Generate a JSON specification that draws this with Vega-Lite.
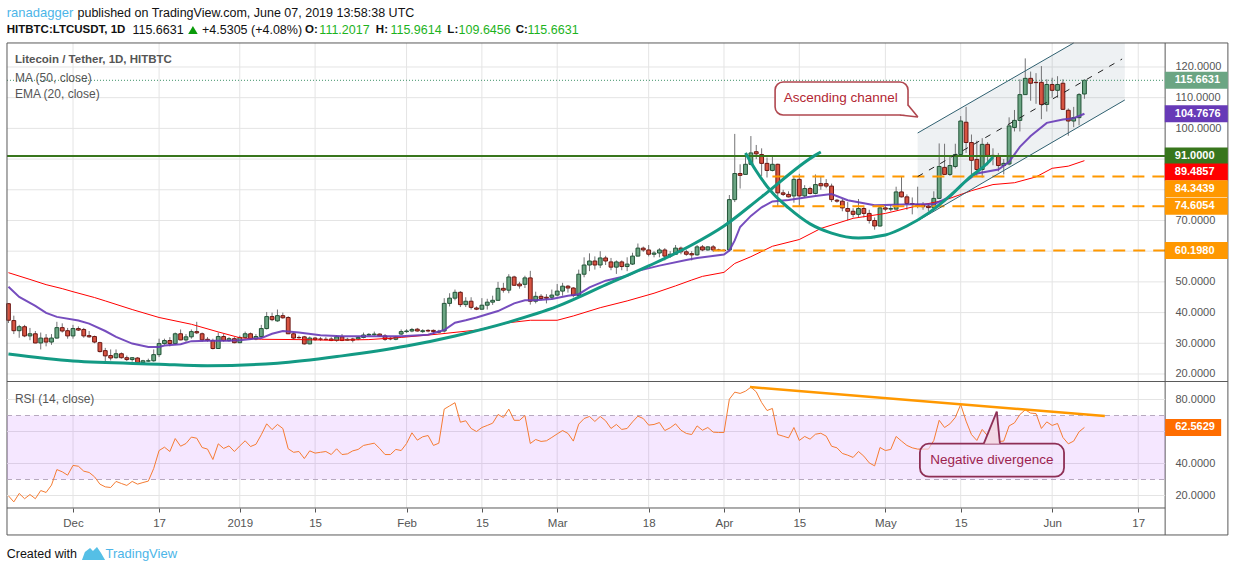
{
  "$schema": "https://vega.github.io/schema/vega-lite/v6.json",
  "description": "Litecoin / Tether daily candles with MA, EMA, channel and RSI",
  "width": 1234,
  "height": 572,
  "padding": 0,
  "autosize": "none",
  "background": "#ffffff",
  "config": {"view": {"stroke": null}, "font": "Liberation Sans"},
  "datasets": {
    "candles": [
      {"date":"2018-11-19","o":42.9,"h":43,"l":36.6,"c":37.5,"rsi":19.8},
      {"date":"2018-11-20","o":37.4,"h":39,"l":33,"c":34.1,"rsi":16},
      {"date":"2018-11-21","o":34.1,"h":36,"l":31.8,"c":35.4,"rsi":21.3},
      {"date":"2018-11-22","o":35.4,"h":36,"l":32,"c":32.4,"rsi":18},
      {"date":"2018-11-23","o":32.4,"h":35,"l":31,"c":33.1,"rsi":20.6},
      {"date":"2018-11-24","o":33.1,"h":34,"l":30,"c":30.1,"rsi":18},
      {"date":"2018-11-25","o":30.1,"h":33.5,"l":28,"c":31.7,"rsi":23.1},
      {"date":"2018-11-26","o":31.7,"h":33,"l":29,"c":30.4,"rsi":21.9},
      {"date":"2018-11-27","o":30.4,"h":33,"l":29.5,"c":31.7,"rsi":26.5},
      {"date":"2018-11-28","o":31.7,"h":37,"l":31.5,"c":35.1,"rsi":36.2},
      {"date":"2018-11-29","o":35.1,"h":36.5,"l":33.5,"c":34,"rsi":34.8},
      {"date":"2018-11-30","o":34.1,"h":35,"l":31.5,"c":32.4,"rsi":32.7},
      {"date":"2018-12-01","o":32.4,"h":36,"l":31.5,"c":34.8,"rsi":38.8},
      {"date":"2018-12-02","o":34.8,"h":35.5,"l":34,"c":34.3,"rsi":38.3},
      {"date":"2018-12-03","o":34.5,"h":35,"l":31.8,"c":32.4,"rsi":35.2},
      {"date":"2018-12-04","o":32.5,"h":34,"l":31.8,"c":32.1,"rsi":34.4},
      {"date":"2018-12-05","o":32.2,"h":32.5,"l":30,"c":30.4,"rsi":31.7},
      {"date":"2018-12-06","o":30.2,"h":30.5,"l":27,"c":27.3,"rsi":27.1},
      {"date":"2018-12-07","o":27.6,"h":28.5,"l":24,"c":25.9,"rsi":25.4},
      {"date":"2018-12-08","o":26,"h":28,"l":24.4,"c":25.2,"rsi":25},
      {"date":"2018-12-09","o":25.3,"h":28,"l":25,"c":26.6,"rsi":28.8},
      {"date":"2018-12-10","o":26.6,"h":27,"l":25,"c":25.3,"rsi":27.5},
      {"date":"2018-12-11","o":25.3,"h":26,"l":24.2,"c":24.7,"rsi":26.3},
      {"date":"2018-12-12","o":24.7,"h":25.5,"l":24,"c":25.3,"rsi":28.8},
      {"date":"2018-12-13","o":25.2,"h":25.5,"l":23.5,"c":23.7,"rsi":27.1},
      {"date":"2018-12-14","o":23.7,"h":24.6,"l":23.5,"c":24.3,"rsi":28.1},
      {"date":"2018-12-15","o":24.2,"h":25,"l":24,"c":24.3,"rsi":29},
      {"date":"2018-12-16","o":24.3,"h":28,"l":24,"c":26.3,"rsi":36.9},
      {"date":"2018-12-17","o":26.3,"h":31.5,"l":25.5,"c":29.9,"rsi":48.1},
      {"date":"2018-12-18","o":29.9,"h":31.5,"l":29.5,"c":30.9,"rsi":50.2},
      {"date":"2018-12-19","o":30.9,"h":32,"l":29,"c":29.9,"rsi":47.5},
      {"date":"2018-12-20","o":29.9,"h":33.5,"l":29.5,"c":33.1,"rsi":55.6},
      {"date":"2018-12-21","o":33.1,"h":34.5,"l":31,"c":31.1,"rsi":50.8},
      {"date":"2018-12-22","o":31.1,"h":33,"l":30.5,"c":32.1,"rsi":52.5},
      {"date":"2018-12-23","o":32.1,"h":34.5,"l":31.5,"c":33.8,"rsi":56.5},
      {"date":"2018-12-24","o":33.8,"h":37,"l":33,"c":33.4,"rsi":55.8},
      {"date":"2018-12-25","o":33.1,"h":33.5,"l":30.5,"c":31.1,"rsi":50},
      {"date":"2018-12-26","o":31.3,"h":32,"l":30.5,"c":30.9,"rsi":49},
      {"date":"2018-12-27","o":30.9,"h":31.5,"l":28,"c":28.3,"rsi":42.5},
      {"date":"2018-12-28","o":28.3,"h":33.5,"l":28.3,"c":32.2,"rsi":52.3},
      {"date":"2018-12-29","o":32.2,"h":33,"l":30.5,"c":30.9,"rsi":49.4},
      {"date":"2018-12-30","o":30.9,"h":32,"l":30.5,"c":31.5,"rsi":51},
      {"date":"2018-12-31","o":31.5,"h":32,"l":30,"c":30.2,"rsi":47.5},
      {"date":"2019-01-01","o":30.2,"h":32.5,"l":30,"c":31.9,"rsi":51},
      {"date":"2019-01-02","o":31.9,"h":33.8,"l":31.5,"c":33.1,"rsi":54.2},
      {"date":"2019-01-03","o":33.1,"h":33.5,"l":31.2,"c":31.4,"rsi":50.6},
      {"date":"2019-01-04","o":31.4,"h":33,"l":31,"c":32.2,"rsi":52},
      {"date":"2019-01-05","o":32.2,"h":36,"l":32,"c":34.8,"rsi":58},
      {"date":"2019-01-06","o":34.8,"h":40.2,"l":34.5,"c":38.7,"rsi":64.8},
      {"date":"2019-01-07","o":38.7,"h":40,"l":37.2,"c":37.7,"rsi":61.2},
      {"date":"2019-01-08","o":37.3,"h":41,"l":37,"c":39,"rsi":64.4},
      {"date":"2019-01-09","o":39,"h":40,"l":38,"c":38.3,"rsi":61.9},
      {"date":"2019-01-10","o":38.4,"h":38.8,"l":33,"c":33.1,"rsi":49.2},
      {"date":"2019-01-11","o":33.1,"h":33.5,"l":31.2,"c":31.7,"rsi":47},
      {"date":"2019-01-12","o":31.9,"h":32.5,"l":31.5,"c":31.8,"rsi":47.5},
      {"date":"2019-01-13","o":32.1,"h":32.4,"l":29.6,"c":29.8,"rsi":43.1},
      {"date":"2019-01-14","o":29.8,"h":32.2,"l":29.7,"c":31.7,"rsi":47.9},
      {"date":"2019-01-15","o":31.7,"h":32,"l":30.8,"c":31.2,"rsi":46.5},
      {"date":"2019-01-16","o":31.4,"h":32,"l":30.8,"c":31.3,"rsi":47},
      {"date":"2019-01-17","o":31.3,"h":32,"l":31,"c":31.2,"rsi":47.5},
      {"date":"2019-01-18","o":31.4,"h":32,"l":30.7,"c":30.9,"rsi":45.6},
      {"date":"2019-01-19","o":30.9,"h":32.6,"l":30.5,"c":32.1,"rsi":49.2},
      {"date":"2019-01-20","o":32.1,"h":33,"l":30.7,"c":30.9,"rsi":45.6},
      {"date":"2019-01-21","o":31,"h":31.8,"l":30.8,"c":31.3,"rsi":46},
      {"date":"2019-01-22","o":31.4,"h":31.8,"l":30.3,"c":31,"rsi":47.9},
      {"date":"2019-01-23","o":31.4,"h":32.3,"l":31,"c":31.9,"rsi":48.8},
      {"date":"2019-01-24","o":31.9,"h":33.5,"l":31.6,"c":32.7,"rsi":51.3},
      {"date":"2019-01-25","o":32.7,"h":33.3,"l":32.5,"c":32.9,"rsi":52},
      {"date":"2019-01-26","o":32.8,"h":33.8,"l":32.5,"c":33,"rsi":52.7},
      {"date":"2019-01-27","o":33,"h":33.2,"l":32.1,"c":32.4,"rsi":49.4},
      {"date":"2019-01-28","o":32.4,"h":33,"l":30.8,"c":31.3,"rsi":45.6},
      {"date":"2019-01-29","o":31.6,"h":32,"l":31,"c":31.4,"rsi":45.6},
      {"date":"2019-01-30","o":31.3,"h":32.4,"l":31,"c":32,"rsi":48.8},
      {"date":"2019-01-31","o":33,"h":34.5,"l":32.7,"c":33.8,"rsi":48.1},
      {"date":"2019-02-01","o":33.8,"h":34.6,"l":33.4,"c":34,"rsi":52.5},
      {"date":"2019-02-02","o":34,"h":35,"l":33.6,"c":34.5,"rsi":59.2},
      {"date":"2019-02-03","o":34.6,"h":35,"l":33.8,"c":34,"rsi":54.6},
      {"date":"2019-02-04","o":33.8,"h":34.6,"l":33.4,"c":34.1,"rsi":56.7},
      {"date":"2019-02-05","o":34.2,"h":34.6,"l":33.6,"c":34,"rsi":57.5},
      {"date":"2019-02-06","o":34.2,"h":34.5,"l":33,"c":33.8,"rsi":51.3},
      {"date":"2019-02-07","o":33.6,"h":34.4,"l":33.2,"c":33.9,"rsi":52.7},
      {"date":"2019-02-08","o":34,"h":44.7,"l":33.5,"c":43,"rsi":74},
      {"date":"2019-02-09","o":43,"h":46.3,"l":42,"c":44.7,"rsi":76},
      {"date":"2019-02-10","o":44.7,"h":47.5,"l":44,"c":46.6,"rsi":78},
      {"date":"2019-02-11","o":46.6,"h":47,"l":41.8,"c":42.6,"rsi":65.8},
      {"date":"2019-02-12","o":42.6,"h":45,"l":41.8,"c":43.7,"rsi":66.7},
      {"date":"2019-02-13","o":43.7,"h":45,"l":41,"c":41.7,"rsi":61.9},
      {"date":"2019-02-14","o":41.5,"h":42,"l":40.8,"c":41.1,"rsi":60},
      {"date":"2019-02-15","o":41.1,"h":44.7,"l":41,"c":42.4,"rsi":62.5},
      {"date":"2019-02-16","o":42.4,"h":44.5,"l":41,"c":43.4,"rsi":63.8},
      {"date":"2019-02-17","o":43.4,"h":45.5,"l":42.5,"c":44,"rsi":65.2},
      {"date":"2019-02-18","o":44,"h":50,"l":43.8,"c":47.9,"rsi":70.6},
      {"date":"2019-02-19","o":47.9,"h":49.7,"l":46.5,"c":47.3,"rsi":68.8},
      {"date":"2019-02-20","o":47.3,"h":52.5,"l":46.3,"c":51.6,"rsi":74},
      {"date":"2019-02-21","o":51.6,"h":52,"l":48.7,"c":48.9,"rsi":67},
      {"date":"2019-02-22","o":49.3,"h":50,"l":47.8,"c":48.7,"rsi":67},
      {"date":"2019-02-23","o":49.2,"h":52,"l":48,"c":51.3,"rsi":70},
      {"date":"2019-02-24","o":51.3,"h":53.6,"l":42.6,"c":43.7,"rsi":52.5},
      {"date":"2019-02-25","o":43.7,"h":46.8,"l":43,"c":45.3,"rsi":55},
      {"date":"2019-02-26","o":45.3,"h":46,"l":44,"c":44.6,"rsi":53.8},
      {"date":"2019-02-27","o":45,"h":46,"l":43,"c":44.7,"rsi":54.2},
      {"date":"2019-02-28","o":45,"h":47.5,"l":44.2,"c":45.7,"rsi":56.3},
      {"date":"2019-03-01","o":45.7,"h":49.3,"l":45.3,"c":47,"rsi":58.5},
      {"date":"2019-03-02","o":47,"h":49.7,"l":45.5,"c":48.6,"rsi":60.6},
      {"date":"2019-03-03","o":48.6,"h":49,"l":46.5,"c":48,"rsi":58.8},
      {"date":"2019-03-04","o":48,"h":48.3,"l":45,"c":45.6,"rsi":54},
      {"date":"2019-03-05","o":45.6,"h":54,"l":45.4,"c":52.5,"rsi":64.6},
      {"date":"2019-03-06","o":52.5,"h":58,"l":51.5,"c":55.5,"rsi":68.1},
      {"date":"2019-03-07","o":55.5,"h":59.3,"l":53.5,"c":56.8,"rsi":69.4},
      {"date":"2019-03-08","o":56.8,"h":58.3,"l":54,"c":55.5,"rsi":66.3},
      {"date":"2019-03-09","o":55.5,"h":60,"l":54.5,"c":57.8,"rsi":69.4},
      {"date":"2019-03-10","o":57.8,"h":58.5,"l":55.5,"c":56.8,"rsi":66.7},
      {"date":"2019-03-11","o":56.5,"h":57.8,"l":53.8,"c":54.8,"rsi":61.9},
      {"date":"2019-03-12","o":54.8,"h":57,"l":52.6,"c":56.5,"rsi":64.4},
      {"date":"2019-03-13","o":56.5,"h":57,"l":53.8,"c":55,"rsi":61.3},
      {"date":"2019-03-14","o":55,"h":58,"l":53.5,"c":55.8,"rsi":61.9},
      {"date":"2019-03-15","o":55.8,"h":59.5,"l":55.5,"c":58.4,"rsi":66},
      {"date":"2019-03-16","o":58.4,"h":62.5,"l":58.3,"c":61,"rsi":69.6},
      {"date":"2019-03-17","o":61,"h":61.5,"l":59.8,"c":60.4,"rsi":68.1},
      {"date":"2019-03-18","o":60.4,"h":62,"l":58.3,"c":59,"rsi":64},
      {"date":"2019-03-19","o":59,"h":60,"l":58,"c":59.4,"rsi":64.4},
      {"date":"2019-03-20","o":59.4,"h":61,"l":58,"c":60.4,"rsi":65.6},
      {"date":"2019-03-21","o":60.4,"h":61,"l":57,"c":58.4,"rsi":60.6},
      {"date":"2019-03-22","o":58.4,"h":60,"l":57.8,"c":59,"rsi":62.3},
      {"date":"2019-03-23","o":59,"h":62,"l":58.8,"c":61,"rsi":64.8},
      {"date":"2019-03-24","o":61,"h":61.5,"l":59,"c":59.8,"rsi":60.8},
      {"date":"2019-03-25","o":59.8,"h":60.5,"l":58.5,"c":59,"rsi":58.8},
      {"date":"2019-03-26","o":59.2,"h":60,"l":57,"c":58.8,"rsi":58.1},
      {"date":"2019-03-27","o":58.8,"h":62,"l":58.5,"c":61.4,"rsi":63.5},
      {"date":"2019-03-28","o":61.4,"h":62,"l":60,"c":60.4,"rsi":60.8},
      {"date":"2019-03-29","o":60.4,"h":61.6,"l":60.2,"c":61.4,"rsi":62.5},
      {"date":"2019-03-30","o":61.4,"h":62,"l":59.8,"c":60.4,"rsi":59.6},
      {"date":"2019-03-31","o":60.4,"h":60.8,"l":60,"c":60.3,"rsi":59.4},
      {"date":"2019-04-01","o":60.3,"h":60.6,"l":60,"c":60.2,"rsi":59.4},
      {"date":"2019-04-02","o":60.4,"h":78.3,"l":60,"c":76.8,"rsi":80.2},
      {"date":"2019-04-03","o":76.8,"h":98.2,"l":76,"c":85.3,"rsi":84.6},
      {"date":"2019-04-04","o":85.3,"h":88.3,"l":80.4,"c":84.7,"rsi":83.8},
      {"date":"2019-04-05","o":85,"h":92,"l":85,"c":88.3,"rsi":85.2},
      {"date":"2019-04-06","o":88.3,"h":97.5,"l":88,"c":92,"rsi":87.7},
      {"date":"2019-04-07","o":92.4,"h":94.6,"l":90,"c":91.7,"rsi":84.8},
      {"date":"2019-04-08","o":91.5,"h":93.5,"l":84.5,"c":88.6,"rsi":78.1},
      {"date":"2019-04-09","o":88.6,"h":90.5,"l":84,"c":86.3,"rsi":73.1},
      {"date":"2019-04-10","o":86.3,"h":90.8,"l":86,"c":88.3,"rsi":74.4},
      {"date":"2019-04-11","o":88.3,"h":88.5,"l":74.7,"c":79,"rsi":58.1},
      {"date":"2019-04-12","o":79,"h":80,"l":78,"c":78.5,"rsi":57.1},
      {"date":"2019-04-13","o":78.5,"h":79.5,"l":77.5,"c":77.7,"rsi":56},
      {"date":"2019-04-14","o":78,"h":84.5,"l":75.8,"c":83.4,"rsi":62.5},
      {"date":"2019-04-15","o":83.4,"h":85.2,"l":74.6,"c":78,"rsi":54.4},
      {"date":"2019-04-16","o":78,"h":81.5,"l":77.5,"c":80.4,"rsi":56.9},
      {"date":"2019-04-17","o":80.4,"h":81,"l":78.5,"c":78.8,"rsi":55.2},
      {"date":"2019-04-18","o":78.8,"h":85,"l":78.5,"c":81.7,"rsi":58.3},
      {"date":"2019-04-19","o":82,"h":84.5,"l":80,"c":81.3,"rsi":58.9},
      {"date":"2019-04-20","o":82,"h":83.5,"l":80.5,"c":81.2,"rsi":57.1},
      {"date":"2019-04-21","o":81.2,"h":82,"l":76,"c":76.8,"rsi":50.8},
      {"date":"2019-04-22","o":76.6,"h":77,"l":75.8,"c":76.3,"rsi":49.8},
      {"date":"2019-04-23","o":76.3,"h":77,"l":73,"c":74.1,"rsi":46.3},
      {"date":"2019-04-24","o":73.9,"h":76,"l":70,"c":73,"rsi":45.2},
      {"date":"2019-04-25","o":73,"h":74,"l":71,"c":72,"rsi":43.8},
      {"date":"2019-04-26","o":72,"h":77,"l":71,"c":73.9,"rsi":47.5},
      {"date":"2019-04-27","o":73.9,"h":74.5,"l":71,"c":72.3,"rsi":44.6},
      {"date":"2019-04-28","o":72.3,"h":73.5,"l":69,"c":70,"rsi":40.4},
      {"date":"2019-04-29","o":70,"h":71,"l":67,"c":68.2,"rsi":38.5},
      {"date":"2019-04-30","o":68.2,"h":75,"l":68,"c":74.1,"rsi":50},
      {"date":"2019-05-01","o":74.1,"h":74.8,"l":73,"c":73.7,"rsi":48.1},
      {"date":"2019-05-02","o":73.7,"h":75,"l":73,"c":73.9,"rsi":48.8},
      {"date":"2019-05-03","o":73.7,"h":81,"l":73.6,"c":79.3,"rsi":56.9},
      {"date":"2019-05-04","o":79.3,"h":84.5,"l":77.5,"c":77.7,"rsi":54},
      {"date":"2019-05-05","o":77.7,"h":78.5,"l":73.5,"c":75.5,"rsi":51.3},
      {"date":"2019-05-06","o":75.5,"h":77.5,"l":72,"c":75.2,"rsi":49.8},
      {"date":"2019-05-07","o":75.2,"h":81,"l":74,"c":74.6,"rsi":49},
      {"date":"2019-05-08","o":75,"h":76,"l":73.5,"c":74.5,"rsi":49},
      {"date":"2019-05-09","o":74.7,"h":75.5,"l":73,"c":74.2,"rsi":49},
      {"date":"2019-05-10","o":74.2,"h":79.5,"l":73.5,"c":77.2,"rsi":54.4},
      {"date":"2019-05-11","o":77.2,"h":95.1,"l":77,"c":87.6,"rsi":67},
      {"date":"2019-05-12","o":87.3,"h":95,"l":85,"c":85,"rsi":62.5},
      {"date":"2019-05-13","o":85,"h":91,"l":84.5,"c":87.9,"rsi":64.8},
      {"date":"2019-05-14","o":87.6,"h":95,"l":87,"c":91.5,"rsi":68.8},
      {"date":"2019-05-15","o":91.5,"h":104,"l":91,"c":102.4,"rsi":76.9},
      {"date":"2019-05-16","o":102,"h":107,"l":92,"c":95.4,"rsi":66.5},
      {"date":"2019-05-17","o":95.4,"h":98,"l":85,"c":89.6,"rsi":58.1},
      {"date":"2019-05-18","o":89.9,"h":96,"l":84.5,"c":86.6,"rsi":54.4},
      {"date":"2019-05-19","o":86.6,"h":96.8,"l":84,"c":94.8,"rsi":61.3},
      {"date":"2019-05-20","o":94.8,"h":95.5,"l":88,"c":91.2,"rsi":57.3},
      {"date":"2019-05-21","o":91.2,"h":93.5,"l":88,"c":90.8,"rsi":57.1},
      {"date":"2019-05-22","o":90.9,"h":92,"l":86,"c":87.9,"rsi":53.8},
      {"date":"2019-05-23","o":87.9,"h":90,"l":85,"c":88.6,"rsi":54},
      {"date":"2019-05-24","o":88.4,"h":103.6,"l":88,"c":100.8,"rsi":63.5},
      {"date":"2019-05-25","o":100.3,"h":106,"l":99,"c":102.6,"rsi":65.4},
      {"date":"2019-05-26","o":102.6,"h":116,"l":99,"c":111,"rsi":70.6},
      {"date":"2019-05-27","o":111,"h":122.8,"l":111,"c":116.3,"rsi":73.5},
      {"date":"2019-05-28","o":116.3,"h":118.5,"l":109,"c":114.7,"rsi":71.5},
      {"date":"2019-05-29","o":115,"h":118,"l":108,"c":114.9,"rsi":71.2},
      {"date":"2019-05-30","o":115,"h":120.3,"l":103,"c":107.8,"rsi":61.9},
      {"date":"2019-05-31","o":107.8,"h":116,"l":105.5,"c":114.3,"rsi":66},
      {"date":"2019-06-01","o":114.3,"h":116.5,"l":110,"c":112.4,"rsi":63.8},
      {"date":"2019-06-02","o":112.4,"h":117,"l":110,"c":114.3,"rsi":65},
      {"date":"2019-06-03","o":114.7,"h":116,"l":106,"c":106.2,"rsi":56.3},
      {"date":"2019-06-04","o":105.9,"h":106.5,"l":97.6,"c":102.4,"rsi":52.3},
      {"date":"2019-06-05","o":102.4,"h":107,"l":100.4,"c":103.5,"rsi":54},
      {"date":"2019-06-06","o":103.5,"h":111.5,"l":101,"c":111,"rsi":59.8},
      {"date":"2019-06-07","o":111.2017,"h":115.9614,"l":109.6456,"c":115.6631,"rsi":62.5629}
    ],
    "ema": [
      {"date":"2018-11-19","price":48.4},{"date":"2018-11-21","price":45.1},{"date":"2018-11-24","price":42.2},
      {"date":"2018-11-26","price":39.9},{"date":"2018-11-28","price":38.6},{"date":"2018-12-02","price":37.4},
      {"date":"2018-12-04","price":36.4},{"date":"2018-12-07","price":34},{"date":"2018-12-09","price":32.1},
      {"date":"2018-12-12","price":29.9},{"date":"2018-12-15","price":28.8},{"date":"2018-12-17","price":28.8},
      {"date":"2018-12-18","price":29.3},{"date":"2018-12-21","price":29.7},{"date":"2018-12-23","price":30.7},
      {"date":"2018-12-26","price":30.8},{"date":"2018-12-30","price":30.8},{"date":"2019-01-01","price":31},
      {"date":"2019-01-05","price":31.7},{"date":"2019-01-07","price":33.1},{"date":"2019-01-09","price":34},
      {"date":"2019-01-12","price":33.5},{"date":"2019-01-16","price":32.6},{"date":"2019-01-20","price":32.3},
      {"date":"2019-01-25","price":32.3},{"date":"2019-01-31","price":32.3},{"date":"2019-02-05","price":32.8},
      {"date":"2019-02-08","price":34.3},{"date":"2019-02-10","price":36.7},{"date":"2019-02-12","price":37.5},
      {"date":"2019-02-14","price":38.4},{"date":"2019-02-18","price":40.5},{"date":"2019-02-21","price":43},
      {"date":"2019-02-23","price":44},{"date":"2019-02-25","price":44},{"date":"2019-02-28","price":44.4},
      {"date":"2019-03-03","price":45.5},{"date":"2019-03-05","price":46},{"date":"2019-03-07","price":48.2},
      {"date":"2019-03-10","price":50.4},{"date":"2019-03-14","price":52},{"date":"2019-03-16","price":53.6},
      {"date":"2019-03-20","price":55.3},{"date":"2019-03-25","price":57.1},{"date":"2019-03-27","price":57.8},
      {"date":"2019-04-01","price":58.9},{"date":"2019-04-02","price":60.2},{"date":"2019-04-03","price":63.5},
      {"date":"2019-04-04","price":67.9},{"date":"2019-04-06","price":71.5},{"date":"2019-04-08","price":74.3},
      {"date":"2019-04-10","price":76.2},{"date":"2019-04-13","price":76.7},{"date":"2019-04-18","price":78},
      {"date":"2019-04-21","price":78.6},{"date":"2019-04-24","price":76.6},{"date":"2019-04-29","price":75},
      {"date":"2019-05-06","price":75.3},{"date":"2019-05-10","price":75.3},{"date":"2019-05-13","price":77.7},
      {"date":"2019-05-15","price":81.5},{"date":"2019-05-18","price":85.3},{"date":"2019-05-22","price":86.6},
      {"date":"2019-05-24","price":89.1},{"date":"2019-05-26","price":94},{"date":"2019-05-28","price":97.5},
      {"date":"2019-05-31","price":101.8},{"date":"2019-06-03","price":102.9},{"date":"2019-06-05","price":103.3},
      {"date":"2019-06-07","price":104.7676}
    ],
    "ma": [
      {"date":"2018-11-19","price":53},{"date":"2018-11-23","price":50.8},{"date":"2018-11-26","price":49.1},
      {"date":"2018-11-29","price":47.8},{"date":"2018-12-01","price":46.8},{"date":"2018-12-05","price":44.9},
      {"date":"2018-12-07","price":43.8},{"date":"2018-12-12","price":41},{"date":"2018-12-17","price":38.4},
      {"date":"2018-12-23","price":36.2},{"date":"2018-12-28","price":33.7},{"date":"2019-01-01","price":31.8},
      {"date":"2019-01-05","price":31.3},{"date":"2019-01-12","price":31.2},{"date":"2019-01-18","price":31},
      {"date":"2019-01-25","price":31.2},{"date":"2019-01-31","price":31.9},{"date":"2019-02-07","price":33},
      {"date":"2019-02-14","price":34.3},{"date":"2019-02-20","price":36.7},{"date":"2019-02-24","price":37.5},
      {"date":"2019-03-01","price":37.5},{"date":"2019-03-04","price":38.9},{"date":"2019-03-09","price":41.6},
      {"date":"2019-03-14","price":43.8},{"date":"2019-03-19","price":46.3},{"date":"2019-03-23","price":48.7},
      {"date":"2019-03-26","price":50.6},{"date":"2019-03-28","price":51.8},{"date":"2019-04-01","price":53.1},
      {"date":"2019-04-03","price":56},{"date":"2019-04-06","price":58.2},{"date":"2019-04-10","price":61.6},
      {"date":"2019-04-15","price":63.8},{"date":"2019-04-19","price":67.4},{"date":"2019-04-25","price":70.7},
      {"date":"2019-05-01","price":72.3},{"date":"2019-05-07","price":74.8},{"date":"2019-05-12","price":76.6},
      {"date":"2019-05-17","price":79.7},{"date":"2019-05-21","price":81.7},{"date":"2019-05-25","price":82.3},
      {"date":"2019-05-29","price":84.2},{"date":"2019-06-01","price":87},{"date":"2019-06-04","price":87.7},
      {"date":"2019-06-07","price":89.4857}
    ],
    "cupLarge": [
      {"date":"2018-11-19","price":26.5},{"date":"2018-12-01","price":24.2},{"date":"2018-12-17","price":23.2},
      {"date":"2018-12-26","price":22.7},{"date":"2019-01-08","price":23.5},{"date":"2019-01-20","price":25.9},
      {"date":"2019-02-01","price":29.1},{"date":"2019-02-10","price":32.4},{"date":"2019-02-20","price":36.9},
      {"date":"2019-03-01","price":42},{"date":"2019-03-10","price":49},{"date":"2019-03-18","price":55.2},
      {"date":"2019-03-26","price":62},{"date":"2019-04-01","price":68.2},{"date":"2019-04-08","price":77.7},
      {"date":"2019-04-18","price":91.3},{"date":"2019-04-19","price":92.3}
    ],
    "cupSmall": [
      {"date":"2019-04-05","price":92},{"date":"2019-04-07","price":86.1},{"date":"2019-04-10","price":79},
      {"date":"2019-04-13","price":74.1},{"date":"2019-04-17","price":68.9},{"date":"2019-04-21","price":65.9},
      {"date":"2019-04-26","price":64.3},{"date":"2019-05-01","price":65.3},{"date":"2019-05-05","price":68.2},
      {"date":"2019-05-09","price":72.4},{"date":"2019-05-13","price":78},{"date":"2019-05-17","price":84.5},
      {"date":"2019-05-20","price":88.7},{"date":"2019-05-21","price":90.7}
    ],
    "ticks": [
      {"date":"2018-12-01","price":127.82,"price2":-23.65},{"date":"2018-12-17","price":127.82,"price2":-23.65},
      {"date":"2019-01-01","price":127.82,"price2":-23.65},{"date":"2019-01-15","price":127.82,"price2":-23.65},
      {"date":"2019-02-01","price":127.82,"price2":-23.65},{"date":"2019-02-15","price":127.82,"price2":-23.65},
      {"date":"2019-03-01","price":127.82,"price2":-23.65},{"date":"2019-03-18","price":127.82,"price2":-23.65},
      {"date":"2019-04-01","price":127.82,"price2":-23.65},{"date":"2019-04-15","price":127.82,"price2":-23.65},
      {"date":"2019-05-01","price":127.82,"price2":-23.65},{"date":"2019-05-15","price":127.82,"price2":-23.65},
      {"date":"2019-06-01","price":127.82,"price2":-23.65},{"date":"2019-06-17","price":127.82,"price2":-23.65}
    ],
    "levels": [
      {"price":20,"date":"2018-11-18T17:30:00Z","date2":"2019-06-22"},{"price":30,"date":"2018-11-18T17:30:00Z","date2":"2019-06-22"},
      {"price":40,"date":"2018-11-18T17:30:00Z","date2":"2019-06-22"},{"price":50,"date":"2018-11-18T17:30:00Z","date2":"2019-06-22"},
      {"price":60,"date":"2018-11-18T17:30:00Z","date2":"2019-06-22"},{"price":70,"date":"2018-11-18T17:30:00Z","date2":"2019-06-22"},
      {"price":80,"date":"2018-11-18T17:30:00Z","date2":"2019-06-22"},{"price":90,"date":"2018-11-18T17:30:00Z","date2":"2019-06-22"},
      {"price":100,"date":"2018-11-18T17:30:00Z","date2":"2019-06-22"},{"price":110,"date":"2018-11-18T17:30:00Z","date2":"2019-06-22"},
      {"price":120,"date":"2018-11-18T17:30:00Z","date2":"2019-06-22"}
    ],
    "channelFill": [
      {"date":"2019-05-07","price":98.5,"price2":69.9},
      {"date":"2019-06-05","price":127.82,"price2":99.5},
      {"date":"2019-06-14T12:00:00Z","price":127.82,"price2":109.25}
    ],
    "channelEdges": [
      {"date":"2019-05-07","date2":"2019-06-05","price":98.5,"price2":127.82},
      {"date":"2019-05-07","date2":"2019-06-14T12:00:00Z","price":69.9,"price2":109.25}
    ],
    "channelMid": [
      {"date":"2019-05-07","date2":"2019-06-14","price":84.3,"price2":122.6}
    ],
    "frameV": [
      {"date":"2018-11-18T17:30:00Z","price":127.82,"price2":-32.44},
      {"date":"2019-06-22","price":127.82,"price2":-32.44},
      {"date":"2019-07-03T16:00:00Z","price":127.82,"price2":-32.44}
    ],
    "frameH": [
      {"date":"2018-11-18T17:30:00Z","date2":"2019-07-03T16:00:00Z","price":127.82},
      {"date":"2018-11-18T17:30:00Z","date2":"2019-07-03T16:00:00Z","price":17.55},
      {"date":"2018-11-18T17:30:00Z","date2":"2019-06-22","price":-23.65},
      {"date":"2018-11-18T17:30:00Z","date2":"2019-07-03T16:00:00Z","price":-32.44}
    ],
    "dashedLevels": [
      {"date":"2019-04-10","date2":"2019-06-22","price":84.3439},
      {"date":"2019-04-10","date2":"2019-06-22","price":74.6054},
      {"date":"2019-03-30","date2":"2019-06-22","price":60.198}
    ],
    "tags": [
      {"date":"2019-06-27T19:00:00Z","price":115.6631,"label":"115.6631","series":"close"},
      {"date":"2019-06-27T19:00:00Z","price":104.7676,"label":"104.7676","series":"ema"},
      {"date":"2019-06-27T19:00:00Z","price":91,"label":"91.0000","series":"level"},
      {"date":"2019-06-27T19:00:00Z","price":74.6054,"label":"74.6054","series":"support"},
      {"date":"2019-06-27T19:00:00Z","price":60.198,"label":"60.1980","series":"support"}
    ],
    "tagMa": [
      {"date":"2019-06-27T19:00:00Z","price":89.4857,"label":"89.4857","series":"ma"}
    ],
    "tagSupport": [
      {"date":"2019-06-27T19:00:00Z","price":84.3439,"label":"84.3439","series":"support"}
    ],
    "boxChannel": [
      {"date":"2019-04-10T12:00:00Z","date2":"2019-05-05T05:00:00Z","price":115.11,"price2":104.36}
    ],
    "tailFill": [
      {"date":"2019-05-03T17:00:00Z","price":104.36,"price2":104.36},
      {"date":"2019-05-05T05:00:00Z","price":107.6,"price2":104.5},
      {"date":"2019-05-07T01:00:00Z","price":103.7,"price2":103.7}
    ],
    "tailEdges": [
      {"date":"2019-05-05T05:00:00Z","date2":"2019-05-07T01:00:00Z","price":107.6,"price2":103.7},
      {"date":"2019-05-07T01:00:00Z","date2":"2019-05-03T17:00:00Z","price":103.7,"price2":104.36}
    ],
    "logo": [
      {"date":"2018-12-02T16:00:00Z","price":-40.6,"price2":-40.6},
      {"date":"2018-12-03T05:00:00Z","price":-37.98,"price2":-40.6},
      {"date":"2018-12-04T04:00:00Z","price":-36.7,"price2":-40.6},
      {"date":"2018-12-04T17:00:00Z","price":-37.65,"price2":-40.6},
      {"date":"2018-12-05T11:00:00Z","price":-36.35,"price2":-40.6},
      {"date":"2018-12-06T05:00:00Z","price":-38.3,"price2":-40.6},
      {"date":"2018-12-06T23:00:00Z","price":-40.6,"price2":-40.6}
    ],
    "rsiLevels": [
      {"date":"2018-11-18T17:30:00Z","date2":"2019-06-22","rsi":20},
      {"date":"2018-11-18T17:30:00Z","date2":"2019-06-22","rsi":40},
      {"date":"2018-11-18T17:30:00Z","date2":"2019-06-22","rsi":60},
      {"date":"2018-11-18T17:30:00Z","date2":"2019-06-22","rsi":80}
    ],
    "rsiBounds": [
      {"date":"2018-11-18T17:30:00Z","date2":"2019-06-22","rsi":70},
      {"date":"2018-11-18T17:30:00Z","date2":"2019-06-22","rsi":30}
    ],
    "rsiBand": [
      {"date":"2018-11-18T17:30:00Z","date2":"2019-06-22","rsi":70,"rsi2":30}
    ],
    "rsiTrend": [
      {"date":"2019-04-05T20:00:00Z","date2":"2019-06-10T19:00:00Z","rsi":87.8,"rsi2":69.7}
    ],
    "boxDivergence": [
      {"date":"2019-05-07T10:00:00Z","date2":"2019-06-03T05:00:00Z","rsi":52.4,"rsi2":31.75}
    ],
    "divTailFill": [
      {"date":"2019-05-19T07:00:00Z","rsi":52.4,"rsi2":52.4},
      {"date":"2019-05-21T17:00:00Z","rsi":72.4,"rsi2":52.4},
      {"date":"2019-05-22T07:00:00Z","rsi":52.4,"rsi2":52.4}
    ],
    "divTailEdges": [
      {"date":"2019-05-19T07:00:00Z","date2":"2019-05-21T17:00:00Z","rsi":52.4,"rsi2":72.4},
      {"date":"2019-05-21T17:00:00Z","date2":"2019-05-22T07:00:00Z","rsi":72.4,"rsi2":52.4}
    ]
  },
  "encoding": {
    "x": {
      "field": "date",
      "type": "temporal",
      "scale": {"type": "utc", "padding": 0, "domain": [{"year":2018,"month":"nov","date":17,"hours":10,"minutes":19,"utc":true},{"year":2019,"month":"jul","date":4,"hours":19,"minutes":12,"utc":true}]},
      "axis": {
        "title": null,
        "orient": "bottom",
        "offset": -64,
        "domain": false,
        "grid": false,
        "tickSize": 4,
        "tickColor": "#555555",
        "labelPadding": 5,
        "labelFont": "Liberation Sans",
        "labelFontSize": 11.5,
        "labelColor": "#555555",
        "labelOverlap": false,
        "values": [
          {"year":2018,"month":"dec","date":1,"utc":true},{"year":2018,"month":"dec","date":17,"utc":true},
          {"year":2019,"month":"jan","date":1,"utc":true},{"year":2019,"month":"jan","date":15,"utc":true},
          {"year":2019,"month":"feb","date":1,"utc":true},{"year":2019,"month":"feb","date":15,"utc":true},
          {"year":2019,"month":"mar","date":1,"utc":true},{"year":2019,"month":"mar","date":18,"utc":true},
          {"year":2019,"month":"apr","date":1,"utc":true},{"year":2019,"month":"apr","date":15,"utc":true},
          {"year":2019,"month":"may","date":1,"utc":true},{"year":2019,"month":"may","date":15,"utc":true},
          {"year":2019,"month":"jun","date":1,"utc":true},{"year":2019,"month":"jun","date":17,"utc":true}
        ],
        "labelExpr": "utcdate(datum.value) == 1 ? (utcmonth(datum.value) == 0 ? utcyear(datum.value) : utcFormat(datum.value, '%b')) : utcdate(datum.value)"
      }
    }
  },
  "resolve": {"scale": {"y": "independent"}, "axis": {"y": "independent"}},
  "layer": [
    {
      "encoding": {
        "y": {
          "field": "price",
          "type": "quantitative",
          "scale": {"domain": [-44.5, 141.82], "nice": false, "zero": false},
          "axis": {
            "title": null,
            "orient": "right",
            "offset": -69,
            "domain": false,
            "ticks": false,
            "grid": false,
            "labelPadding": 10,
            "labelFont": "Liberation Sans",
            "labelFontSize": 11,
            "labelColor": "#555555",
            "labelAlign": "left",
            "labelOverlap": false,
            "format": ".4f",
            "values": [20, 30, 40, 50, 70, 100, 110, 120]
          }
        }
      },
      "layer": [
        {"data": {"name": "levels"}, "mark": {"type": "rule", "color": "#e4e4e4", "strokeWidth": 1}, "encoding": {"x2": {"field": "date2"}}},
        {"data": {"name": "ticks"}, "mark": {"type": "rule", "color": "#e4e4e4", "strokeWidth": 1}, "encoding": {"y2": {"field": "price2"}}},
        {"data": {"name": "channelFill"}, "mark": {"type": "area", "color": "#5c7a8a", "opacity": 0.1}, "encoding": {"y2": {"field": "price2"}}},
        {"data": {"name": "candles"}, "mark": {"type": "rule", "color": "#737375", "strokeWidth": 1}, "encoding": {
          "y": {"field": "l", "type": "quantitative", "scale": {"domain": [-44.5, 141.82], "nice": false, "zero": false},
            "axis": {"title": null, "orient": "right", "offset": -69, "domain": false, "ticks": false, "grid": false, "labelPadding": 10, "labelFont": "Liberation Sans", "labelFontSize": 11, "labelColor": "#555555", "labelAlign": "left", "labelOverlap": false, "format": ".4f", "values": [20, 30, 40, 50, 70, 100, 110, 120]}},
          "y2": {"field": "h"}
        }},
        {"data": {"name": "candles"}, "mark": {"type": "bar", "size": 3.8, "strokeWidth": 1}, "encoding": {
          "y": {"field": "o", "type": "quantitative", "scale": {"domain": [-44.5, 141.82], "nice": false, "zero": false},
            "axis": {"title": null, "orient": "right", "offset": -69, "domain": false, "ticks": false, "grid": false, "labelPadding": 10, "labelFont": "Liberation Sans", "labelFontSize": 11, "labelColor": "#555555", "labelAlign": "left", "labelOverlap": false, "format": ".4f", "values": [20, 30, 40, 50, 70, 100, 110, 120]}},
          "y2": {"field": "c"},
          "color": {"condition": {"test": "datum.c >= datum.o", "value": "#6BA583"}, "value": "#D75442"},
          "stroke": {"condition": {"test": "datum.c >= datum.o", "value": "#225437"}, "value": "#6B1713"}
        }},
        {"data": {"name": "ma"}, "mark": {"type": "line", "color": "#FF0000", "strokeWidth": 1}},
        {"data": {"name": "ema"}, "mark": {"type": "line", "color": "#673AB7", "strokeWidth": 2, "opacity": 0.9}},
        {"data": {"values": [{"date":"2018-11-18T17:30:00Z","date2":"2019-06-22","price":91}]}, "mark": {"type": "rule", "color": "#38761D", "strokeWidth": 2}, "encoding": {"x2": {"field": "date2"}}},
        {"data": {"values": [{"date":"2018-11-18T17:30:00Z","date2":"2019-06-22","price":115.6631}]}, "mark": {"type": "rule", "color": "#3d8f66", "strokeWidth": 1, "strokeDash": [1, 2]}, "encoding": {"x2": {"field": "date2"}}},
        {"data": {"name": "dashedLevels"}, "mark": {"type": "rule", "color": "#FF9800", "strokeWidth": 2, "strokeDash": [12, 8]}, "encoding": {"x2": {"field": "date2"}}},
        {"data": {"name": "channelEdges"}, "mark": {"type": "rule", "color": "#2f6070", "strokeWidth": 1}, "encoding": {"x2": {"field": "date2"}, "y2": {"field": "price2"}}},
        {"data": {"name": "channelMid"}, "mark": {"type": "rule", "color": "#222222", "strokeWidth": 1, "strokeDash": [6, 7]}, "encoding": {"x2": {"field": "date2"}, "y2": {"field": "price2"}}},
        {"data": {"name": "cupLarge"}, "mark": {"type": "line", "color": "#139A84", "strokeWidth": 3, "interpolate": "monotone"}},
        {"data": {"name": "cupSmall"}, "mark": {"type": "line", "color": "#139A84", "strokeWidth": 3, "interpolate": "monotone"}},
        {"data": {"name": "boxChannel"}, "mark": {"type": "rect", "fill": "#ffffff", "stroke": "#b0474f", "strokeWidth": 1.6, "cornerRadius": 8}, "encoding": {"x2": {"field": "date2"}, "y2": {"field": "price2"}}},
        {"data": {"name": "tailFill"}, "mark": {"type": "area", "color": "#ffffff"}, "encoding": {"y2": {"field": "price2"}}},
        {"data": {"name": "tailEdges"}, "mark": {"type": "rule", "color": "#b0474f", "strokeWidth": 1.6}, "encoding": {"x2": {"field": "date2"}, "y2": {"field": "price2"}}},
        {"data": {"values": [{"date":"2019-04-22T17:00:00Z","price":109.74,"label":"Ascending channel"}]}, "mark": {"type": "text", "align": "center", "baseline": "middle", "fontSize": 13.5, "color": "#b22733"}, "encoding": {"text": {"field": "label"}}},
        {"data": {"name": "frameV"}, "mark": {"type": "rule", "color": "#5a5a5a", "strokeWidth": 1}, "encoding": {"y2": {"field": "price2"}}},
        {"data": {"name": "frameH"}, "mark": {"type": "rule", "color": "#5a5a5a", "strokeWidth": 1}, "encoding": {"x2": {"field": "date2"}}},
        {"data": {"name": "tags"}, "mark": {"type": "tick", "orient": "horizontal", "thickness": 17, "size": 63, "opacity": 1}, "encoding": {
          "color": {"field": "series", "type": "nominal", "legend": null, "scale": {"domain": ["close", "ema", "level", "ma", "support", "rsi"], "range": ["#6BA583", "#673AB7", "#38761D", "#FF0000", "#FF9800", "#FF6D00"]}}
        }},
        {"data": {"name": "tagMa"}, "mark": {"type": "tick", "orient": "horizontal", "thickness": 17, "size": 63, "opacity": 1, "yOffset": 11.3}, "encoding": {
          "color": {"field": "series", "type": "nominal", "legend": null, "scale": {"domain": ["close", "ema", "level", "ma", "support", "rsi"], "range": ["#6BA583", "#673AB7", "#38761D", "#FF0000", "#FF9800", "#FF6D00"]}}
        }},
        {"data": {"name": "tagSupport"}, "mark": {"type": "tick", "orient": "horizontal", "thickness": 17, "size": 63, "opacity": 1, "yOffset": 12.2}, "encoding": {
          "color": {"field": "series", "type": "nominal", "legend": null, "scale": {"domain": ["close", "ema", "level", "ma", "support", "rsi"], "range": ["#6BA583", "#673AB7", "#38761D", "#FF0000", "#FF9800", "#FF6D00"]}}
        }},
        {"data": {"name": "tags"}, "mark": {"type": "text", "align": "left", "baseline": "middle", "fontWeight": "bold", "fontSize": 11, "color": "#ffffff", "dx": -21.5}, "encoding": {"text": {"field": "label"}}},
        {"data": {"name": "tagMa"}, "mark": {"type": "text", "align": "left", "baseline": "middle", "fontWeight": "bold", "fontSize": 11, "color": "#ffffff", "dx": -21.5, "dy": 11.3}, "encoding": {"text": {"field": "label"}}},
        {"data": {"name": "tagSupport"}, "mark": {"type": "text", "align": "left", "baseline": "middle", "fontWeight": "bold", "fontSize": 11, "color": "#ffffff", "dx": -21.5, "dy": 12.2}, "encoding": {"text": {"field": "label"}}},
        {"data": {"values": [
          {"date":"2018-11-18T16:20:00Z","price":137.59,"label":"ranadagger"},
          {"date":"2018-12-07T01:00:00Z","price":-38.63,"label":"TradingView"}
        ]}, "mark": {"type": "text", "align": "left", "baseline": "middle", "fontSize": 13, "color": "#4CB5E8"}, "encoding": {"text": {"field": "label"}}},
        {"data": {"values": [
          {"date":"2018-12-01T20:00:00Z","price":137.59,"label":"published on TradingView.com, June 07, 2019 13:58:38 UTC"},
          {"date":"2018-12-12T01:00:00Z","price":132.05,"label":"115.6631"},
          {"date":"2018-12-24T23:30:00Z","price":132.05,"label":"+4.5305 (+4.08%)"},
          {"date":"2018-11-18T16:20:00Z","price":-38.63,"label":"Created with"}
        ]}, "mark": {"type": "text", "align": "left", "baseline": "middle", "fontSize": 12.5, "color": "#111111"}, "encoding": {"text": {"field": "label"}}},
        {"data": {"values": [
          {"date":"2018-11-18T16:20:00Z","price":132.05,"label":"HITBTC:LTCUSDT, 1D"},
          {"date":"2019-01-13T03:00:00Z","price":132.05,"label":"O:"},
          {"date":"2019-01-26T07:00:00Z","price":132.05,"label":"H:"},
          {"date":"2019-02-08T14:00:00Z","price":132.05,"label":"L:"},
          {"date":"2019-02-21T07:00:00Z","price":132.05,"label":"C:"}
        ]}, "mark": {"type": "text", "align": "left", "baseline": "middle", "fontSize": 11.5, "fontWeight": "bold", "color": "#111111"}, "encoding": {"text": {"field": "label"}}},
        {"data": {"values": [
          {"date":"2019-01-15T19:00:00Z","price":132.05,"label":"111.2017"},
          {"date":"2019-01-29T00:00:00Z","price":132.05,"label":"115.9614"},
          {"date":"2019-02-10T16:00:00Z","price":132.05,"label":"109.6456"},
          {"date":"2019-02-23T11:00:00Z","price":132.05,"label":"115.6631"}
        ]}, "mark": {"type": "text", "align": "left", "baseline": "middle", "fontSize": 12.5, "color": "#1DB31D"}, "encoding": {"text": {"field": "label"}}},
        {"data": {"values": [{"date":"2018-12-23T07:00:00Z","price":132.05}]}, "mark": {"type": "point", "shape": "triangle-up", "filled": true, "size": 90, "opacity": 1, "color": "#0A9B0A"}},
        {"data": {"values": [{"date":"2018-11-20T05:00:00Z","price":122.28,"label":"Litecoin / Tether, 1D, HITBTC"}]}, "mark": {"type": "text", "align": "left", "baseline": "middle", "fontSize": 11.5, "fontWeight": "bold", "color": "#555555"}, "encoding": {"text": {"field": "label"}}},
        {"data": {"values": [
          {"date":"2018-11-20T05:00:00Z","price":116.42,"label":"MA (50, close)"},
          {"date":"2018-11-20T05:00:00Z","price":111.21,"label":"EMA (20, close)"}
        ]}, "mark": {"type": "text", "align": "left", "baseline": "middle", "fontSize": 12, "color": "#555555"}, "encoding": {"text": {"field": "label"}}},
        {"data": {"name": "logo"}, "mark": {"type": "area", "color": "#55BFE6"}, "encoding": {"y2": {"field": "price2"}}}
      ]
    },
    {
      "encoding": {
        "y": {
          "field": "rsi",
          "type": "quantitative",
          "scale": {"domain": [-27.81, 329.69], "nice": false, "zero": false},
          "axis": {
            "title": null,
            "orient": "right",
            "offset": -69,
            "domain": false,
            "ticks": false,
            "grid": false,
            "labelPadding": 10,
            "labelFont": "Liberation Sans",
            "labelFontSize": 11,
            "labelColor": "#555555",
            "labelAlign": "left",
            "format": ".4f",
            "values": [20, 40, 80]
          }
        }
      },
      "layer": [
        {"data": {"name": "rsiLevels"}, "mark": {"type": "rule", "color": "#e4e4e4", "strokeWidth": 1}, "encoding": {"x2": {"field": "date2"}}},
        {"data": {"name": "rsiBand"}, "mark": {"type": "rect", "color": "#9915FF", "opacity": 0.1}, "encoding": {"x2": {"field": "date2"}, "y2": {"field": "rsi2"}}},
        {"data": {"name": "rsiBounds"}, "mark": {"type": "rule", "color": "#b7a9bf", "strokeWidth": 1, "strokeDash": [5, 4]}, "encoding": {"x2": {"field": "date2"}}},
        {"data": {"name": "candles"}, "mark": {"type": "line", "color": "#F57C33", "strokeWidth": 1}},
        {"data": {"name": "rsiTrend"}, "mark": {"type": "rule", "color": "#FF9800", "strokeWidth": 2.5}, "encoding": {"x2": {"field": "date2"}, "y2": {"field": "rsi2"}}},
        {"data": {"name": "boxDivergence"}, "mark": {"type": "rect", "fill": "#f3e5fb", "fillOpacity": 0.6, "stroke": "#8e2f55", "strokeWidth": 1.8, "cornerRadius": 9}, "encoding": {"x2": {"field": "date2"}, "y2": {"field": "rsi2"}}},
        {"data": {"name": "divTailFill"}, "mark": {"type": "area", "color": "#f3d9e6"}, "encoding": {"y2": {"field": "rsi2"}}},
        {"data": {"name": "divTailEdges"}, "mark": {"type": "rule", "color": "#8e2f55", "strokeWidth": 1.8}, "encoding": {"x2": {"field": "date2"}, "y2": {"field": "rsi2"}}},
        {"data": {"values": [{"date":"2019-05-20T19:00:00Z","rsi":42.4,"label":"Negative divergence"}]}, "mark": {"type": "text", "align": "center", "baseline": "middle", "fontSize": 13.5, "color": "#9c1f4f"}, "encoding": {"text": {"field": "label"}}},
        {"data": {"values": [{"date":"2018-11-20T05:00:00Z","rsi":80.3,"label":"RSI (14, close)"}]}, "mark": {"type": "text", "align": "left", "baseline": "middle", "fontSize": 12, "color": "#555555"}, "encoding": {"text": {"field": "label"}}},
        {"data": {"values": [{"date":"2019-06-27T05:00:00Z","rsi":62.5629,"series":"rsi"}]}, "mark": {"type": "tick", "orient": "horizontal", "thickness": 17, "size": 56, "opacity": 1}, "encoding": {
          "color": {"field": "series", "type": "nominal", "legend": null, "scale": {"domain": ["close", "ema", "level", "ma", "support", "rsi"], "range": ["#6BA583", "#673AB7", "#38761D", "#FF0000", "#FF9800", "#FF6D00"]}}
        }},
        {"data": {"values": [{"date":"2019-06-27T05:00:00Z","rsi":62.5629,"label":"62.5629"}]}, "mark": {"type": "text", "align": "left", "baseline": "middle", "fontWeight": "bold", "fontSize": 11, "color": "#ffffff", "dx": -18}, "encoding": {"text": {"field": "label"}}}
      ]
    }
  ]
}
